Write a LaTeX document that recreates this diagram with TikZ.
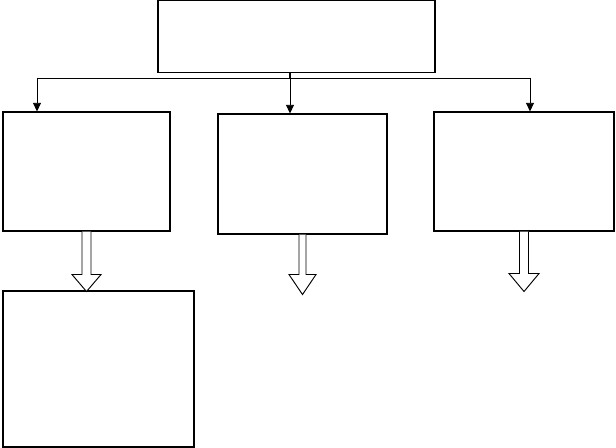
\documentclass[tikz,border=0pt]{standalone}
\usetikzlibrary{arrows.meta,positioning,calc}
\tikzset{blk/.style={rectangle,draw=black,fill=white,inner sep=0pt,line width=0.8pt},
         feed/.style={draw=black,line width=0.7pt,-{Triangle[width=6pt,length=6.5pt]}},
         hollow/.style={draw=black,fill=white,line width=0.7pt,line join=miter}}

\begin{document}
\begin{tikzpicture}[x=0.75pt,y=-0.75pt]
\useasboundingbox (0,0) rectangle (616,448);
\node (top) at (296.5,36.5) [blk,minimum width=207.75pt,minimum height=54pt] {};
\node (left) at (86.5,171.5) [blk,minimum width=125.25pt,minimum height=89.25pt] {};
\node (mid) at (302.5,174) [blk,minimum width=126.75pt,minimum height=90pt] {};
\node (right) at (524,171.5) [blk,minimum width=135pt,minimum height=89.25pt] {};
\node (bottom) at (98.5,369) [blk,minimum width=143.25pt,minimum height=117pt] {};
\coordinate (fork) at (290,78);
\coordinate (j1) at (37,78);
\coordinate (j3) at (530,78);
\draw[line width=1.2pt] (top.south -| fork) -- (fork);
\draw[line width=0.7pt] (j1) -- (j3);
\draw[feed] (j1) -- (j1 |- left.north);
\draw[feed] (fork) -- (fork |- mid.north);
\draw[feed] (j3) -- (j3 |- right.north);
\draw[hollow] (left.south) ++(-4.5,0) -- ++(0,43) -- ++(-10,0) -- ++(14.5,17)
      -- ++(14.5,-17) -- ++(-10,0) -- ++(0,-43);
\draw[hollow] (mid.south) ++(-3.5,0) -- ++(0,40) -- ++(-10,0) -- ++(13.5,20)
      -- ++(13.5,-20) -- ++(-10,0) -- ++(0,-40);
\draw[hollow] (right.south) ++(-4.5,0) -- ++(0,42) -- ++(-10.5,0) -- ++(15,18)
      -- ++(15,-18) -- ++(-10.5,0) -- ++(0,-42);
\end{tikzpicture}
\end{document}
